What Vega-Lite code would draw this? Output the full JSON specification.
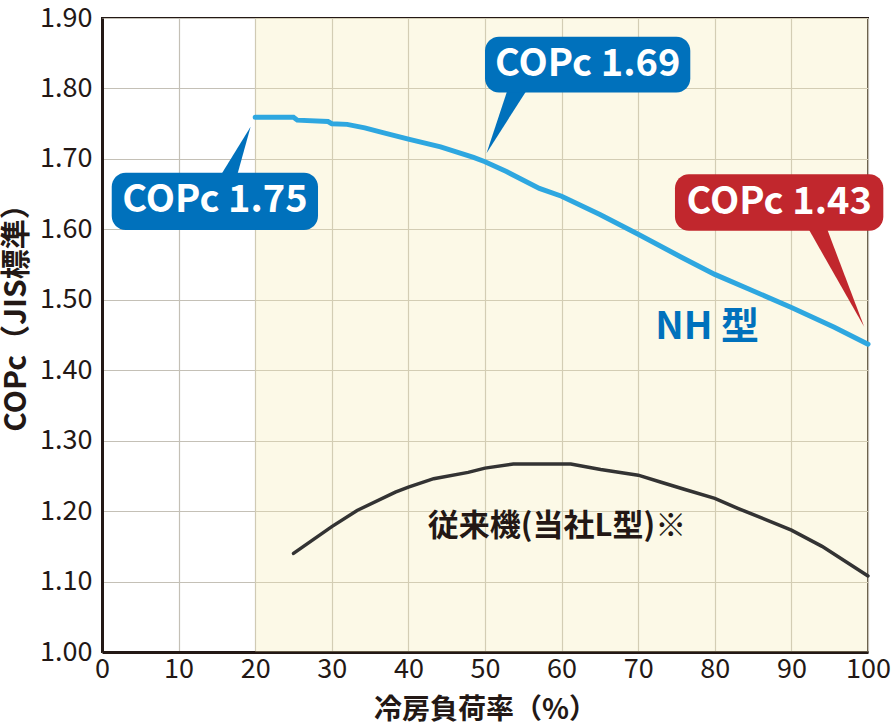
{
  "$schema": "https://vega.github.io/schema/vega-lite/v6.json",
  "autosize": {"type": "none"},
  "width": 766,
  "height": 634,
  "padding": {"left": 102, "top": 18, "right": 28, "bottom": 74},
  "background": "white",
  "config": {
    "font": "Noto Sans CJK JP",
    "view": {"stroke": "#231815", "strokeWidth": 2},
    "axis": {
      "domainColor": "#231815",
      "domainWidth": 3,
      "gridColor": "#c4c0b6",
      "gridWidth": 1.2,
      "ticks": false,
      "labelColor": "#231815",
      "labelFontSize": 27,
      "labelFlush": false,
      "labelOverlap": false,
      "labelBound": false,
      "titleColor": "#231815",
      "titleFontSize": 28,
      "titleFontWeight": "bold"
    }
  },
  "datasets": {
    "shade": [{"x": 20, "x2": 100, "y": 1.0, "y2": 1.9, "kind": "shade"}],
    "curves": [
      {"series": "NH", "x": 20, "y": 1.759},
      {"series": "NH", "x": 25, "y": 1.759},
      {"series": "NH", "x": 25.5, "y": 1.755},
      {"series": "NH", "x": 29.5, "y": 1.753},
      {"series": "NH", "x": 30, "y": 1.75},
      {"series": "NH", "x": 32, "y": 1.749},
      {"series": "NH", "x": 34.3, "y": 1.744},
      {"series": "NH", "x": 36.8, "y": 1.737},
      {"series": "NH", "x": 40, "y": 1.728},
      {"series": "NH", "x": 44.2, "y": 1.717},
      {"series": "NH", "x": 48.5, "y": 1.702},
      {"series": "NH", "x": 50, "y": 1.696},
      {"series": "NH", "x": 52.8, "y": 1.682},
      {"series": "NH", "x": 57.1, "y": 1.658},
      {"series": "NH", "x": 60, "y": 1.647},
      {"series": "NH", "x": 65, "y": 1.621},
      {"series": "NH", "x": 70, "y": 1.593},
      {"series": "NH", "x": 75.7, "y": 1.56},
      {"series": "NH", "x": 80, "y": 1.536},
      {"series": "NH", "x": 84.5, "y": 1.515},
      {"series": "NH", "x": 90, "y": 1.489},
      {"series": "NH", "x": 95.6, "y": 1.461},
      {"series": "NH", "x": 100, "y": 1.437},
      {"series": "old", "x": 25, "y": 1.14},
      {"series": "old", "x": 30, "y": 1.178},
      {"series": "old", "x": 33.3, "y": 1.201},
      {"series": "old", "x": 38.3, "y": 1.227},
      {"series": "old", "x": 40, "y": 1.234},
      {"series": "old", "x": 43.3, "y": 1.246},
      {"series": "old", "x": 47.8, "y": 1.255},
      {"series": "old", "x": 50, "y": 1.261},
      {"series": "old", "x": 53.7, "y": 1.267},
      {"series": "old", "x": 61.2, "y": 1.267},
      {"series": "old", "x": 65.1, "y": 1.259},
      {"series": "old", "x": 70, "y": 1.251},
      {"series": "old", "x": 73, "y": 1.241},
      {"series": "old", "x": 76, "y": 1.231},
      {"series": "old", "x": 80, "y": 1.218},
      {"series": "old", "x": 83, "y": 1.204},
      {"series": "old", "x": 90, "y": 1.173},
      {"series": "old", "x": 94, "y": 1.15},
      {"series": "old", "x": 100, "y": 1.108}
    ],
    "pointers": [
      {"id": "p175", "kind": "blue", "y": 1.675, "x": 15.4, "x2": 17.6},
      {"id": "p175", "kind": "blue", "y": 1.7457, "x": 19.4, "x2": 19.4},
      {"id": "p169", "kind": "blue", "y": 1.8, "x": 53.0, "x2": 55.6},
      {"id": "p169", "kind": "blue", "y": 1.708, "x": 50.2, "x2": 50.2},
      {"id": "p143", "kind": "red", "y": 1.605, "x": 92.0, "x2": 94.5},
      {"id": "p143", "kind": "red", "y": 1.4616, "x": 99.5, "x2": 99.5}
    ],
    "boxes": [
      {"kind": "blue", "x": 1.27, "x2": 28.2, "y": 1.599, "y2": 1.6804},
      {"kind": "blue", "x": 50.0, "x2": 76.8, "y": 1.7943, "y2": 1.8735},
      {"kind": "red", "x": 74.8, "x2": 102.0, "y": 1.598, "y2": 1.6783}
    ],
    "boxText": [
      {"label": "COPc 1.75", "x": 14.75, "y": 1.6405},
      {"label": "COPc 1.69", "x": 63.4, "y": 1.8339},
      {"label": "COPc 1.43", "x": 88.4, "y": 1.638}
    ],
    "labels": [
      {"label": "NH 型", "kind": "nhtext", "x": 79.0, "y": 1.46, "size": "big"},
      {"label": "従来機(当社L型)※", "kind": "oldtext", "x": 59.4, "y": 1.1778, "size": "small"}
    ]
  },
  "encoding": {
    "x": {
      "field": "x",
      "type": "quantitative",
      "scale": {"domain": [0, 100], "nice": false, "zero": false},
      "axis": {
        "title": "冷房負荷率（%）",
        "values": [0, 10, 20, 30, 40, 50, 60, 70, 80, 90, 100],
        "labelPadding": 4,
        "titlePadding": 14
      }
    },
    "y": {
      "field": "y",
      "type": "quantitative",
      "scale": {"domain": [1.0, 1.9], "nice": false, "zero": false},
      "axis": {
        "title": "COPc（JIS標準）",
        "values": [1.0, 1.1, 1.2, 1.3, 1.4, 1.5, 1.6, 1.7, 1.8, 1.9],
        "format": ".2f",
        "labelPadding": 10,
        "titlePadding": 8,
        "titleFontSize": 30,
        "titleY": 292
      }
    }
  },
  "layer": [
    {
      "data": {"name": "shade"},
      "mark": {"type": "rect", "opacity": 0.3},
      "encoding": {
        "x2": {"field": "x2"},
        "y2": {"field": "y2"},
        "color": {
          "field": "kind",
          "type": "nominal",
          "legend": null,
          "scale": {
            "domain": ["shade", "NH", "old", "blue", "red", "nhtext", "oldtext"],
            "range": ["#f6eab0", "#2ea7e0", "#333333", "#0071bc", "#c1272d", "#0071bc", "#231815"]
          }
        }
      }
    },
    {
      "data": {"name": "curves"},
      "transform": [{"filter": "datum.series == 'old'"}],
      "mark": {"type": "line", "strokeWidth": 3.5, "strokeCap": "round"},
      "encoding": {"color": {"field": "series", "type": "nominal", "legend": null}}
    },
    {
      "data": {"name": "curves"},
      "transform": [{"filter": "datum.series == 'NH'"}],
      "mark": {"type": "line", "strokeWidth": 5, "strokeCap": "round"},
      "encoding": {"color": {"field": "series", "type": "nominal", "legend": null}}
    },
    {
      "data": {"name": "pointers"},
      "mark": {"type": "area", "orient": "horizontal"},
      "encoding": {
        "x": {"field": "x", "type": "quantitative", "stack": null, "title": "冷房負荷率（%）"},
        "x2": {"field": "x2"},
        "detail": {"field": "id", "type": "nominal"},
        "color": {"field": "kind", "type": "nominal", "legend": null}
      }
    },
    {
      "data": {"name": "boxes"},
      "mark": {"type": "rect", "cornerRadius": 14},
      "encoding": {
        "x2": {"field": "x2"},
        "y2": {"field": "y2"},
        "color": {"field": "kind", "type": "nominal", "legend": null}
      }
    },
    {
      "data": {"name": "boxText"},
      "mark": {"type": "text", "fontSize": 38, "fontWeight": "bold", "color": "white", "baseline": "middle", "align": "center"},
      "encoding": {"text": {"field": "label"}}
    },
    {
      "data": {"name": "labels"},
      "transform": [{"filter": "datum.size == 'big'"}],
      "mark": {"type": "text", "fontSize": 38, "fontWeight": "bold", "baseline": "middle", "align": "center"},
      "encoding": {
        "text": {"field": "label"},
        "color": {"field": "kind", "type": "nominal", "legend": null}
      }
    },
    {
      "data": {"name": "labels"},
      "transform": [{"filter": "datum.size == 'small'"}],
      "mark": {"type": "text", "fontSize": 31, "fontWeight": "bold", "baseline": "middle", "align": "center"},
      "encoding": {
        "text": {"field": "label"},
        "color": {"field": "kind", "type": "nominal", "legend": null}
      }
    }
  ]
}
